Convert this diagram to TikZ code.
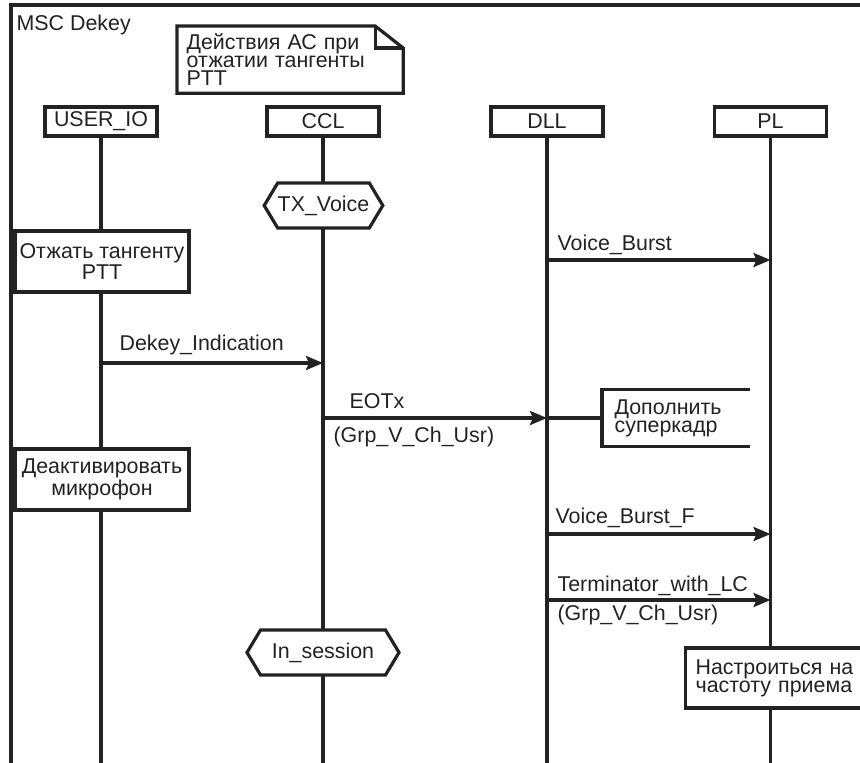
\documentclass[tikz,border=0pt]{standalone}
\usepackage{fontspec}
\setmainfont{Liberation Sans}
\usetikzlibrary{arrows.meta,shapes.symbols,backgrounds}
\definecolor{ink}{HTML}{222222}

\begin{document}
\begin{tikzpicture}
  [x=0.5pt, y=-0.5pt, color=ink, line width=1.6pt,
   every node/.style={font=\fontsize{10.7}{9}\selectfont, inner sep=0pt},
   >={Stealth[length=8.5pt,width=7pt,inset=1.5pt]},
   head/.style={draw, fill=white, minimum width=56pt, minimum height=14.5pt},
   act/.style={draw, fill=white, minimum width=87pt, minimum height=30.5pt, align=center},
   cond/.style={draw, fill=white, shape=signal, signal to=west and east,
                signal pointer angle=118, minimum height=22.5pt},
   notebox/.style={inner xsep=4pt, text width=103.5pt, minimum height=32pt, align=left},
   lifeline/.style={draw=ink, line width=1.6pt},
   lbl/.style={anchor=base west}]
  \useasboundingbox (0,0) rectangle (860,762);
  % frame
  \draw (11,5) rectangle (900,800);
  \node[lbl] (title) at (15,30) {MSC Dekey};
  \node[notebox, anchor=north west] (note) at (177,26) {Действия АС при\\отжатии тангенты\\PTT};
  \draw (note.south west) -- (note.north west) -- ([xshift=-14pt]note.north east)
    -- ([yshift=-11pt]note.north east) -- (note.south east) -- cycle;
  \draw ([xshift=-14pt]note.north east) |- ([yshift=-11pt]note.north east);
  % instances
  \node[head] (userio) at (101,121.5) {USER\_IO};
  \node[head] (ccl) at (323,121.5) {CCL};
  \node[head] (dll) at (547,121.5) {DLL};
  \node[head] (pl) at (770.5,121.5) {PL};
  % conditions and actions
  \node[cond, minimum width=50pt] (txvoice) at (323.5,205.5) {TX\_Voice};
  \node[cond, minimum width=76pt] (insession) at (323,652.5) {In\_session};
  \node[act] (release) at (102,261.5) {Отжать тангенту\\PTT};
  \node[act] (mute) at (102,479.5) {Деактивировать\\микрофон};
  \node[fill=white, inner xsep=5.5pt, text width=61.5pt, minimum height=27pt,
        align=left, anchor=west] (pad) at (602,418) {Дополнить\\суперкадр};
  \draw (pad.north east) -- (pad.north west) -- (pad.south west) -- (pad.south east);
  \node[draw, fill=white, inner xsep=5pt, text width=88pt, minimum height=30pt,
        align=left, anchor=west] (retune) at (684,678) {Настроиться на\\частоту приема};
  % lifelines
  \coordinate (bot) at (0,780);
  \begin{scope}[on background layer]
    \draw[lifeline] (userio.south) -- (userio.south |- bot);
    \draw[lifeline] (ccl.south) -- (ccl.south |- bot);
    \draw[lifeline] (dll.south) -- (dll.south |- bot);
    \draw[lifeline] (pl.south) -- (pl.south |- bot);
  \end{scope}
  % messages
  \coordinate (m1) at (0,260);
  \coordinate (m2) at (0,363);
  \coordinate (m3) at (0,418);
  \coordinate (m4) at (0,534);
  \coordinate (m5) at (0,600);
  \draw[->] (dll |- m1) -- (pl |- m1);
  \node[lbl] (lvb) at (556,250) {Voice\_Burst};
  \draw[->] (userio |- m2) -- (ccl |- m2);
  \node[lbl] (ldekey) at (118,350) {Dekey\_Indication};
  \draw[->] (ccl |- m3) -- (dll |- m3);
  \draw (dll |- m3) -- (pad.west);
  \node[lbl] (leotx) at (348,408) {EOTx};
  \node[lbl] (leotxp) at (332,442) {(Grp\_V\_Ch\_Usr)};
  \draw[->] (dll |- m4) -- (pl |- m4);
  \node[lbl] (lvbf) at (554,523) {Voice\_Burst\_F};
  \draw[->] (dll |- m5) -- (pl |- m5);
  \node[lbl] (lterm) at (556,591) {Terminator\_with\_LC};
  \node[lbl] (ltermp) at (556,620) {(Grp\_V\_Ch\_Usr)};
\end{tikzpicture}
\end{document}
